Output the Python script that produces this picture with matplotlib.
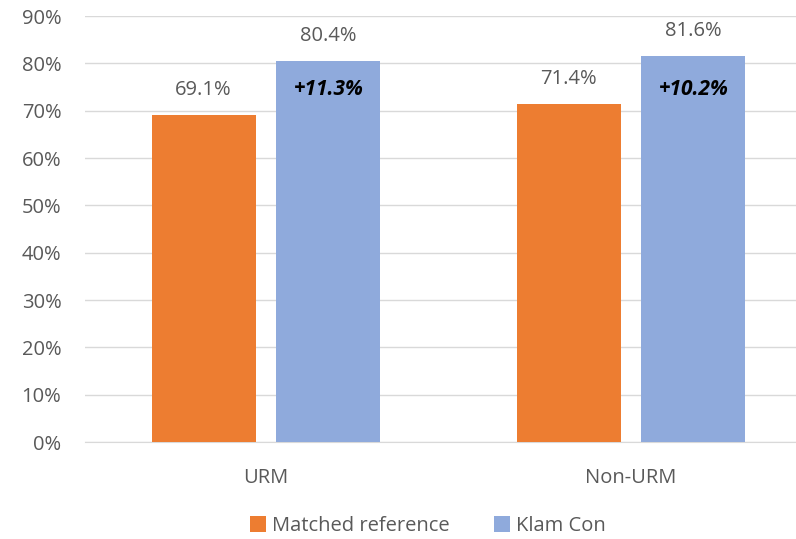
import matplotlib.pyplot as plt
import numpy as np

plt.rcParams['font.family'] = ['Open Sans', 'DejaVu Sans']

categories = ["URM", "Non-URM"]
matched = [69.1, 71.4]
klam = [80.4, 81.6]
gains = ["+11.3%", "+10.2%"]
series_names = ["Matched reference", "Klam Con"]

orange = "#ED7D31"
blue = "#8FAADC"
gray = "#595959"

fig = plt.figure(figsize=(7.96, 5.39), dpi=100)
ax = fig.add_axes([85 / 796, 1 - 442 / 539, 1 - 85 / 796, (442 - 16) / 539])

x = np.arange(len(categories))
w = 0.285
off = 0.171
b1 = ax.bar(x - off, matched, w, color=orange, label=series_names[0], zorder=3)
b2 = ax.bar(x + off, klam, w, color=blue, label=series_names[1], zorder=3)

for i in range(len(categories)):
    ax.text(x[i] - off, matched[i] + 5.3, f"{matched[i]:.1f}%", ha="center", va="center",
            fontsize=14.5, color=gray)
    ax.text(x[i] + off, klam[i] + 5.3, f"{klam[i]:.1f}%", ha="center", va="center",
            fontsize=14.5, color=gray)
    # gain labels sit at about the same height inside the blue bars
    ax.text(x[i] + off, 74.5, gains[i], ha="center", va="center",
            fontsize=15, color="black", fontweight="bold", style="italic")

ax.set_xlim(-0.496, 1.452)
ax.set_ylim(0, 90)
ax.set_yticks(np.arange(0, 91, 10))
ax.set_yticklabels([f"{v}%" for v in range(0, 91, 10)])
ax.set_xticks(x)
ax.set_xticklabels(categories)
ax.tick_params(axis="both", length=0, labelsize=14.5, labelcolor=gray)
ax.tick_params(axis="y", pad=17)
ax.tick_params(axis="x", pad=19)
ax.yaxis.grid(True, color="#D9D9D9", linewidth=1, zorder=0)
for s in ["top", "right", "left"]:
    ax.spines[s].set_visible(False)
ax.spines["bottom"].set_color("#D9D9D9")

fig.legend(handles=[b1, b2], loc="center", bbox_to_anchor=(428 / 796, 1 - 526 / 539),
           ncol=2, frameon=False, fontsize=14.5, handlelength=0.8, handleheight=0.8,
           columnspacing=2.2, handletextpad=0.3, labelcolor=gray)

fig.savefig("out.png", dpi=100)
